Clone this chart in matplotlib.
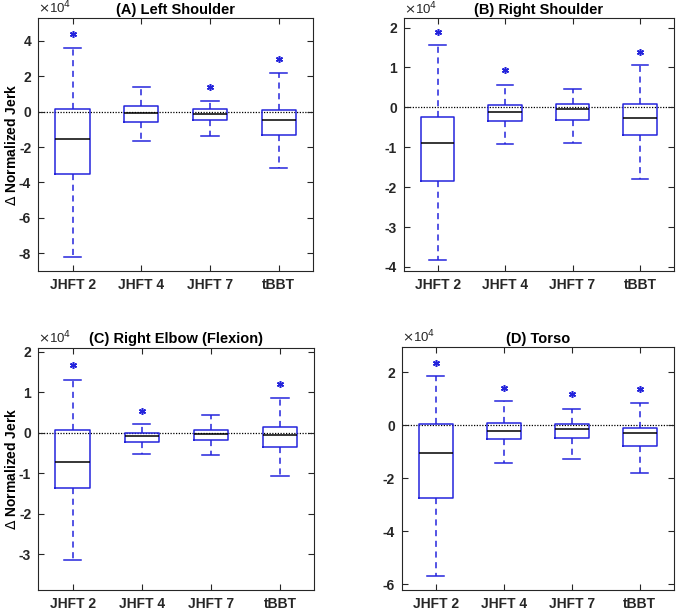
import numpy as np
import matplotlib
matplotlib.use("Agg")
import matplotlib.pyplot as plt

# Valores en unidades de x10^4
categorias = ["JHFT 2", "JHFT 4", "JHFT 7", "tBBT"]

titulos = ["(A) Left Shoulder", "(B) Right Shoulder",
           "(C) Right Elbow (Flexion)", "(D) Torso"]

# whisker bajo, Q1, mediana, Q3, whisker alto
bigote_bajo = [
    [-8.21, -1.67, -1.35, -3.20],
    [-3.83, -0.92, -0.89, -1.80],
    [-3.13, -0.52, -0.56, -1.07],
    [-5.67, -1.44, -1.27, -1.81],
]
q1 = [
    [-3.53, -0.57, -0.47, -1.31],
    [-1.85, -0.34, -0.31, -0.70],
    [-1.36, -0.23, -0.19, -0.36],
    [-2.76, -0.52, -0.50, -0.79],
]
mediana = [
    [-1.54, -0.06, -0.11, -0.45],
    [-0.89, -0.12, -0.05, -0.27],
    [-0.72, -0.09, -0.02, -0.06],
    [-1.03, -0.21, -0.16, -0.30],
]
q3 = [
    [0.15, 0.32, 0.15, 0.09],
    [-0.23, 0.06, 0.09, 0.09],
    [0.06, 0.00, 0.07, 0.13],
    [0.06, 0.09, 0.04, -0.11],
]
bigote_alto = [
    [3.60, 1.40, 0.59, 2.18],
    [1.57, 0.57, 0.45, 1.05],
    [1.31, 0.21, 0.43, 0.86],
    [1.86, 0.90, 0.63, 0.82],
]
# asteriscos (None = sin asterisco)
asteriscos = [
    [4.40, None, 1.40, 2.98],
    [1.90, 0.93, None, 1.40],
    [1.66, 0.53, None, 1.19],
    [2.36, 1.41, 1.16, 1.36],
]

limites_y = [(-9.0, 5.3), (-4.1, 2.23), (-3.87, 2.1), (-6.2, 2.95)]
ticks_y = [np.arange(-8, 5, 2), np.arange(-4, 3, 1),
           np.arange(-3, 3, 1), np.arange(-6, 3, 2)]

# posiciones de los ejes [left, bottom, width, height]
posiciones = [
    [0.056, 0.558, 0.403, 0.413],
    [0.592, 0.558, 0.396, 0.412],
    [0.056, 0.038, 0.405, 0.395],
    [0.589, 0.038, 0.399, 0.396],
]

azul = "#2424dc"
gris = "#262626"

plt.rcParams["font.family"] = "Liberation Sans"

fig = plt.figure(figsize=(6.82, 6.13), dpi=100)

for k in range(4):
    ax = fig.add_axes(posiciones[k])
    stats = []
    for j in range(4):
        stats.append(dict(med=mediana[k][j], q1=q1[k][j], q3=q3[k][j],
                          whislo=bigote_bajo[k][j], whishi=bigote_alto[k][j],
                          fliers=[]))
    ax.axhline(0, color="black", linestyle=(0, (1, 1.2)), linewidth=0.9, zorder=1)
    ax.bxp(stats, positions=[1, 2, 3, 4], widths=0.5, showfliers=False,
           boxprops=dict(color=azul, linewidth=1.1),
           whiskerprops=dict(color=azul, linewidth=1.1, linestyle=(0, (4, 3))),
           capprops=dict(color=azul, linewidth=1.1),
           medianprops=dict(color="black", linewidth=1.1),
           capwidths=0.25, manage_ticks=False)
    for j in range(4):
        if asteriscos[k][j] is not None:
            ax.plot(j + 1, asteriscos[k][j], marker=(6, 2, 0), color=azul,
                    markersize=5, markeredgewidth=1.1, linestyle="none")

    ax.set_xlim(0.5, 4.5)
    ax.set_ylim(*limites_y[k])
    ax.set_xticks([1, 2, 3, 4])
    ax.set_xticklabels(categorias, fontsize=10, fontweight="bold", color=gris)
    ax.set_yticks(ticks_y[k])
    ax.set_yticklabels([str(int(v)) for v in ticks_y[k]], fontsize=10,
                       fontweight="bold", color=gris)
    ax.tick_params(direction="in", length=4, width=0.8, colors=gris,
                   top=True, right=True, pad=5)
    for s in ax.spines.values():
        s.set_color(gris)
        s.set_linewidth(0.8)
    ax.set_title(titulos[k], fontsize=10.5, fontweight="bold", pad=3)
    ax.text(0.0, 1.005, r"$\times$10$^4$", transform=ax.transAxes,
            fontsize=9.5, color=gris, va="bottom", ha="left")
    if k % 2 == 0:
        ax.set_ylabel(r"$\Delta$ Normalized Jerk", fontsize=10,
                      fontweight="bold")
        ax.yaxis.set_label_coords(-0.07, 0.5)

fig.savefig("out.png", dpi=100)
